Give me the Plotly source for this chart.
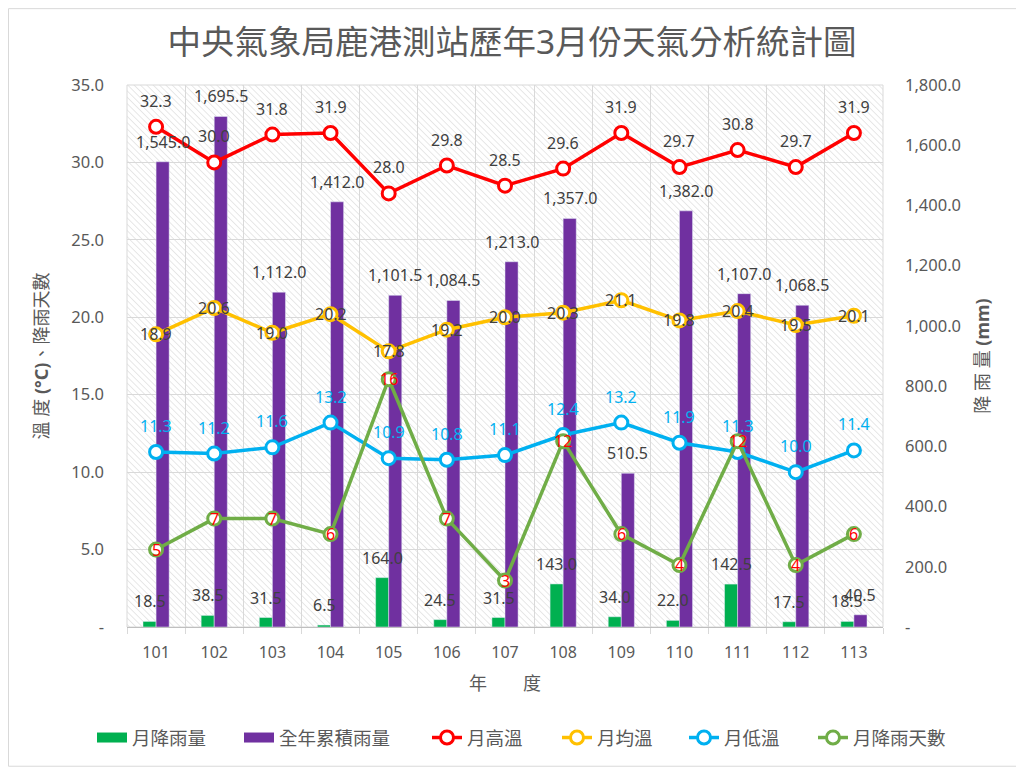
import base64
import plotly.graph_objects as go

years = ["101", "102", "103", "104", "105", "106", "107", "108", "109", "110", "111", "112", "113"]
monthly_rain = [18.5, 38.5, 31.5, 6.5, 164.0, 24.5, 31.5, 143.0, 34.0, 22.0, 142.5, 17.5, 18.5]
annual_rain = [1545.0, 1695.5, 1112.0, 1412.0, 1101.5, 1084.5, 1213.0, 1357.0, 510.5, 1382.0, 1107.0, 1068.5, 40.5]
t_high = [32.3, 30.0, 31.8, 31.9, 28.0, 29.8, 28.5, 29.6, 31.9, 29.7, 30.8, 29.7, 31.9]
t_mean = [18.9, 20.6, 19.0, 20.2, 17.8, 19.2, 20.0, 20.3, 21.1, 19.8, 20.4, 19.5, 20.1]
t_low = [11.3, 11.2, 11.6, 13.2, 10.9, 10.8, 11.1, 12.4, 13.2, 11.9, 11.3, 10.0, 11.4]
rain_days = [5, 7, 7, 6, 16, 7, 3, 12, 6, 4, 12, 4, 6]

left_ticks = [0, 5, 10, 15, 20, 25, 30, 35]
left_ticktext = ["-", "5.0", "10.0", "15.0", "20.0", "25.0", "30.0", "35.0"]
right_ticks = [0, 200, 400, 600, 800, 1000, 1200, 1400, 1600, 1800]
right_ticktext = ["-", "200.0", "400.0", "600.0", "800.0", "1,000.0", "1,200.0", "1,400.0", "1,600.0", "1,800.0"]

FONT = "Noto Sans, Noto Sans CJK TC, sans-serif"
# page body has an 8px margin, so the figure is drawn 8px smaller and shifted
OFF = 8
W, H = 1024 - OFF, 768 - OFF
ML, MR, MT, MB = 127 - OFF, 141, 85 - OFF, 140
PW, PH = W - ML - MR, H - MT - MB

# legend entry text start positions (page px) for each series
legend_text_x = [132, 279, 467, 597, 724, 853]

fig = go.Figure()
fig.add_trace(go.Bar(x=years, y=monthly_rain, name="月降雨量", marker_color="#00B050", yaxis="y",
                     legendgroup="m", showlegend=False))
fig.add_trace(go.Bar(x=years, y=annual_rain, name="全年累積雨量", marker_color="#7030A0", yaxis="y",
                     legendgroup="a", showlegend=False))
# legend swatches for the bar series (wide rectangles as in the reference)
fig.add_trace(go.Scatter(x=[None], y=[None], name="月降雨量", mode="lines", legendgroup="m",
                         line=dict(color="#00B050", width=10), legend="legend"))
fig.add_trace(go.Scatter(x=[None], y=[None], name="全年累積雨量", mode="lines", legendgroup="a",
                         line=dict(color="#7030A0", width=10), legend="legend2"))

line_specs = [
    ("月高溫", t_high, "#FF0000"),
    ("月均溫", t_mean, "#FFC000"),
    ("月低溫", t_low, "#00B0F0"),
    ("月降雨天數", rain_days, "#70AD47"),
]
for k, (name, vals, color) in enumerate(line_specs):
    fig.add_trace(go.Scatter(
        x=years, y=vals, name=name, mode="lines+markers", yaxis="y2",
        line=dict(color=color, width=3.5),
        marker=dict(size=13, color="white", line=dict(color=color, width=3)),
        legend=f"legend{k + 3}",
    ))

annotations = []
def lab(i, y, text, yref, color, xshift=0, yshift=0):
    annotations.append(dict(x=i, y=y, xref="x", yref=yref, text=text, showarrow=False,
                            xshift=xshift, yshift=yshift,
                            font=dict(family=FONT, size=16, color=color)))

for i, yr in enumerate(years):
    lab(i, monthly_rain[i], f"{monthly_rain[i]:,.1f}", "y", "#404040", xshift=-6.5, yshift=20)
    lab(i, annual_rain[i], f"{annual_rain[i]:,.1f}", "y", "#404040", xshift=6.5, yshift=20)
    lab(i, t_high[i], f"{t_high[i]:.1f}", "y2", "#404040", yshift=26)
    lab(i, t_low[i], f"{t_low[i]:.1f}", "y2", "#00B0F0", yshift=26)
    lab(i, t_mean[i], f"{t_mean[i]:.1f}", "y2", "#404040")
    lab(i, rain_days[i], f"{rain_days[i]}", "y2", "#FF0000")

svg = (f"<svg xmlns='http://www.w3.org/2000/svg' width='{PW}' height='{PH}'>"
       "<defs><pattern id='p' width='4.5' height='4.5' patternUnits='userSpaceOnUse' patternTransform='rotate(-45)'>"
       "<line x1='0' y1='0' x2='0' y2='4.5' stroke='#cfcfcf' stroke-width='1'/></pattern></defs>"
       "<rect width='100%' height='100%' fill='url(#p)'/></svg>")
svg_uri = "data:image/svg+xml;base64," + base64.b64encode(svg.encode()).decode()

legends = {}
for k, tx in enumerate(legend_text_x):
    key = "legend" if k == 0 else f"legend{k + 1}"
    legends[key] = dict(orientation="h", x=(tx - OFF - 40 - ML) / PW, xanchor="left",
                        y=-110 / PH, yanchor="middle", bgcolor="rgba(0,0,0,0)",
                        font=dict(family=FONT, size=18.5, color="#595959"), itemwidth=30)

fig.update_layout(
    width=W, height=H,
    margin=dict(l=ML, r=MR, t=MT, b=MB),
    paper_bgcolor="white", plot_bgcolor="rgba(0,0,0,0)",
    font=dict(family=FONT, size=16, color="#595959"),
    title=dict(text="中央氣象局鹿港測站歷年3月份天氣分析統計圖", x=(512 - OFF) / W, xref="container", xanchor="center",
               y=1 - (42 - OFF) / H, yref="container", yanchor="middle",
               font=dict(family=FONT, size=33.5, color="#595959")),
    barmode="group", bargap=0.55, bargroupgap=0,
    xaxis=dict(type="category", range=[-0.5, len(years) - 0.5], autorange=False,
               tickson="boundaries", showgrid=True, gridcolor="#d9d9d9",
               ticks="outside", ticklen=6, tickcolor="#d9d9d9", tickangle=0, ticklabelstandoff=11,
               showline=True, linecolor="#bfbfbf", mirror=False,
               tickfont=dict(size=16, color="#595959"),
               title=dict(text="年　　度", standoff=15, font=dict(size=18, color="#595959"))),
    yaxis=dict(side="right", range=[0, 1800], autorange=False, tickvals=right_ticks, ticktext=right_ticktext,
               showgrid=False, zeroline=False, ticks="", ticklabelstandoff=21,
               tickfont=dict(size=16.5, color="#595959"),
               title=dict(text="降 雨 量 <b>(mm)</b>", standoff=16, font=dict(size=18, color="#595959"))),
    yaxis2=dict(side="left", overlaying="y", range=[0, 35], autorange=False, tickvals=left_ticks, ticktext=left_ticktext,
                showgrid=True, gridcolor="#d9d9d9", zeroline=False, ticks="", ticklabelstandoff=22,
                tickfont=dict(size=16.5, color="#595959"),
                title=dict(text="溫 度 <b>(°C)</b>、降雨天數", standoff=17, font=dict(size=18, color="#595959"))),
    annotations=annotations,
    images=[dict(source=svg_uri, xref="paper", yref="paper", x=0, y=1, sizex=1, sizey=1,
                 xanchor="left", yanchor="top", sizing="stretch", layer="below")],
    shapes=[
        dict(type="rect", xref="paper", yref="paper", x0=0, x1=1, y0=0, y1=1,
             line=dict(color="#d9d9d9", width=1), layer="below"),
        dict(type="rect", xref="paper", yref="paper",
             x0=(-ML + 0.5) / PW, x1=1 + (MR - 0.5) / PW, y0=(-MB + 0.5) / PH, y1=1 + (MT - 0.5) / PH,
             line=dict(color="#d9d9d9", width=1)),
    ],
    **legends,
)

fig.write_html("out.html")
